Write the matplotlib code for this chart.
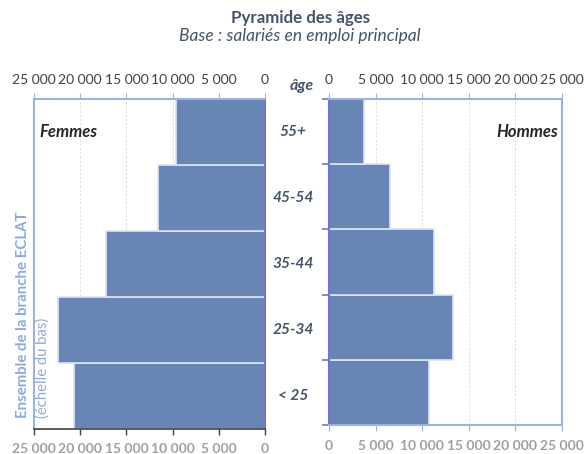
import numpy as np
import matplotlib.pyplot as plt

plt.rcParams['font.family'] = ['Lato', 'DejaVu Sans']

# Données (de bas en haut)
ages = ['< 25', '25-34', '35-44', '45-54', '55+']
femmes = [20700, 22400, 17200, 11600, 9600]
hommes = [10700, 13300, 11300, 6500, 3800]
ticks = [0, 5000, 10000, 15000, 20000, 25000]
tick_labels = ['0', '5 000', '10 000', '15 000', '20 000', '25 000']

bar_color = '#6785B5'
edge_color = '#DCE4F2'
light_blue = '#9DB3DA'
axis_blue = '#7474C4'
text_dark = '#44546A'
grey = '#A0A0A0'
tick_fs = 10

W, H = 584, 454
fig = plt.figure(figsize=(W / 100, H / 100), dpi=100)


def box(x0, y0, x1, y1):
    return [x0 / W, 1 - y1 / H, (x1 - x0) / W, (y1 - y0) / H]


y = np.arange(len(ages))

# Femmes (à gauche)
axl = fig.add_axes(box(34, 99, 265, 429))
axl.barh(y, femmes, height=1.0, color=bar_color, edgecolor=edge_color, linewidth=1.2, zorder=2)
axl.set_xlim(25000, 0)
axl.set_ylim(-0.5, len(ages) - 0.5)
axl.set_yticks([])
axl.set_xticks(ticks)
axl.set_xticklabels(tick_labels, fontsize=tick_fs, fontweight='bold')
axl.tick_params(axis='x', colors='#404040', length=4, width=1, labelcolor=grey, pad=6)
for v in ticks[1:-1]:
    axl.axvline(v, color='#D9D9D9', lw=0.6, ls=(0, (3, 2)), zorder=1)
axl.spines['top'].set_color(light_blue)
axl.spines['left'].set_color(light_blue)
axl.spines['right'].set_color(axis_blue)
axl.spines['right'].set_linewidth(1.5)
axl.spines['bottom'].set_color('#404040')
axl.spines['bottom'].set_linewidth(1.2)
axl.spines['top'].set_linewidth(1.5)
axl.spines['left'].set_linewidth(1.5)

axlt = axl.twiny()
axlt.set_xlim(25000, 0)
axlt.set_xticks(ticks)
axlt.set_xticklabels(tick_labels, fontsize=tick_fs)
axlt.tick_params(axis='x', colors=light_blue, length=4, labelcolor='#404040', pad=5)
for s in axlt.spines.values():
    s.set_visible(False)

axl.text(0.025, 0.9, 'Femmes', transform=axl.transAxes, fontsize=12,
         fontweight='bold', fontstyle='italic', color='#262626', va='center', ha='left')

# Hommes (à droite)
axr = fig.add_axes(box(329, 99, 562, 425))
axr.barh(y, hommes, height=1.0, color=bar_color, edgecolor=edge_color, linewidth=1.2, zorder=2)
axr.set_xlim(0, 25000)
axr.set_ylim(-0.5, len(ages) - 0.5)
axr.set_yticks(np.arange(len(ages) + 1) - 0.5)
axr.set_yticklabels([])
axr.tick_params(axis='y', colors=axis_blue, length=5, width=1.2)
axr.set_xticks(ticks)
axr.set_xticklabels(tick_labels, fontsize=tick_fs, fontweight='bold')
axr.tick_params(axis='x', colors=light_blue, length=4, labelcolor=grey, pad=7)
for v in ticks[1:-1]:
    axr.axvline(v, color='#D9D9D9', lw=0.6, ls=(0, (3, 2)), zorder=1)
for name in ['top', 'right', 'bottom']:
    axr.spines[name].set_color(light_blue)
    axr.spines[name].set_linewidth(1.5)
axr.spines['left'].set_color(axis_blue)
axr.spines['left'].set_linewidth(1.5)

axrt = axr.twiny()
axrt.set_xlim(0, 25000)
axrt.set_xticks(ticks)
axrt.set_xticklabels(tick_labels, fontsize=tick_fs)
axrt.tick_params(axis='x', colors=light_blue, length=4, labelcolor='#404040', pad=5)
for s in axrt.spines.values():
    s.set_visible(False)

axr.text(0.985, 0.9, 'Hommes', transform=axr.transAxes, fontsize=12,
         fontweight='bold', fontstyle='italic', color='#262626', va='center', ha='right')

# Libellés des âges au centre
for i, lab in enumerate(ages):
    yc = axl.transData.transform((0, i))[1]
    fig.text(293 / W, yc / fig.bbox.height, lab, fontsize=11.2, fontweight='bold',
             fontstyle='italic', color=text_dark, ha='center', va='center')
fig.text(302 / W, 1 - 86 / H, 'âge', fontsize=11.5, fontweight='bold',
         fontstyle='italic', color=text_dark, ha='center', va='center')

# Texte vertical
fig.text(23 / W, 1 - 418 / H, 'Ensemble de la branche ECLAT', rotation=90,
         fontsize=10.8, fontweight='bold', color='#8EA9DB', ha='center', va='bottom')
fig.text(43 / W, 1 - 418 / H, '(échelle du bas)', rotation=90,
         fontsize=10.7, color='#8EA9DB', ha='center', va='bottom')

# Titres
fig.text(0.514, 1 - 18 / H, 'Pyramide des âges', fontsize=12.2, fontweight='bold',
         color=text_dark, ha='center', va='center')
fig.text(0.514, 1 - 36 / H, 'Base : salariés en emploi principal', fontsize=12.5,
         fontstyle='italic', color=text_dark, ha='center', va='center')

fig.savefig('out.png', dpi=100)
